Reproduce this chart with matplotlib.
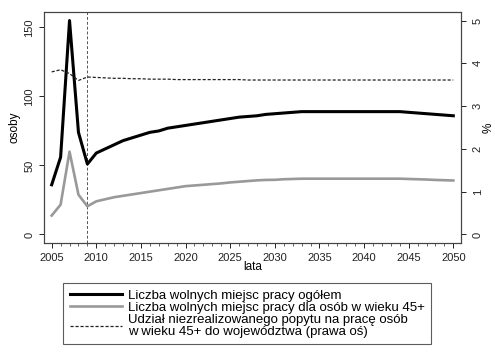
import matplotlib
matplotlib.use("Agg")
from matplotlib import pyplot as plt
from matplotlib.lines import Line2D

years = list(range(2005, 2051))

# liczba wolnych miejsc pracy ogolem (lewa os)
total = [36, 56, 155, 74, 51, 59, 62, 65, 68, 70, 72, 74, 75, 77, 78, 79, 80, 81,
         82, 83, 84, 85, 85.5, 86, 87, 87.5, 88, 88.5, 89, 89, 89, 89, 89, 89, 89,
         89, 89, 89, 89, 89, 88.5, 88, 87.5, 87, 86.5, 86]
# liczba wolnych miejsc pracy dla osob 45+ (lewa os)
older = [13.7, 21.6, 60, 28.8, 20.4, 24, 25.5, 27, 28, 29, 30, 31, 32, 33, 34,
         35, 35.5, 36, 36.5, 37, 37.7, 38.2, 38.7, 39.2, 39.5, 39.6, 40, 40.2,
         40.4, 40.4, 40.4, 40.4, 40.4, 40.4, 40.4, 40.4, 40.4, 40.4, 40.4, 40.4,
         40.2, 40, 39.8, 39.5, 39.3, 39.1]
# udzial niezrealizowanego popytu (prawa os, %)
share = [3.80, 3.85, 3.76, 3.60, 3.68, 3.67, 3.66, 3.65, 3.65, 3.64, 3.64, 3.63,
         3.63, 3.63, 3.62, 3.62, 3.62, 3.62, 3.62, 3.62, 3.62, 3.62, 3.61, 3.61,
         3.61, 3.61, 3.61, 3.61, 3.61, 3.61, 3.61, 3.61, 3.61, 3.61, 3.61, 3.61,
         3.61, 3.61, 3.61, 3.61, 3.61, 3.61, 3.61, 3.61, 3.61, 3.61]

labels = [
    "Liczba wolnych miejsc pracy ogółem",
    "Liczba wolnych miejsc pracy dla osób w wieku 45+",
    "Udział niezrealizowanego popytu na pracę osób\nw wieku 45+ do województwa (prawa oś)",
]

plt.rcParams["font.family"] = ["Liberation Sans", "DejaVu Sans"]

fig = plt.figure(figsize=(4.95, 3.56), dpi=100)
ax = fig.add_axes([0.0889, 0.3174, 0.8424, 0.6489])
ax2 = ax.twinx()

ax.axvline(2009, color="#555555", lw=0.7, ls=(0, (3, 2)))
ax.plot(years, older, color="#999999", lw=1.9, solid_joinstyle="round")
ax.plot(years, total, color="black", lw=2.2, solid_joinstyle="round")
ax2.plot(years, share, color="#222222", lw=0.9, ls=(0, (2.5, 1.5)))

ax.set_xlim(2004.14, 2050.86)
ax.set_ylim(-6.2, 161.2)
ax2.set_ylim(-0.2, 5.2)

ax.set_xticks(range(2005, 2051, 5))
ax.set_xticks(years, minor=True)
ax.set_yticks([0, 50, 100, 150])
ax2.set_yticks([0, 1, 2, 3, 4, 5])

for a in (ax, ax2):
    for s in a.spines.values():
        s.set_color("#444444")
        s.set_linewidth(0.8)
    a.tick_params(direction="out", length=3.5, width=0.7, colors="#222222",
                  labelsize=8)
ax.tick_params(which="minor", length=2, width=0.6, colors="#444444")
ax.tick_params(axis="y", labelrotation=90)
ax2.tick_params(axis="y", labelrotation=90, pad=5)
for t in ax.get_yticklabels() + ax2.get_yticklabels():
    t.set_va("center")

ax.set_xlabel("lata", fontsize=8.5, labelpad=-1)
ax.set_ylabel("osoby", fontsize=8.5, labelpad=3)
ax2.set_ylabel("%", fontsize=8.5, labelpad=0)

handles = [
    Line2D([], [], color="black", lw=2.2),
    Line2D([], [], color="#999999", lw=1.9),
    Line2D([], [], color="#222222", lw=0.9, ls=(0, (2.5, 1.5))),
]
leg = fig.legend(handles, labels, loc="upper left",
                 bbox_to_anchor=(63 / 495, 1 - 283 / 356),
                 fontsize=9.5, handlelength=4.0, handletextpad=0.4,
                 labelspacing=0.0, borderpad=0.5, borderaxespad=0,
                 frameon=True, fancybox=False, edgecolor="#333333")
leg.get_frame().set_linewidth(0.8)
for t in leg.get_texts():
    t.set_linespacing(0.98)

fig.savefig("out.png", dpi=100)
